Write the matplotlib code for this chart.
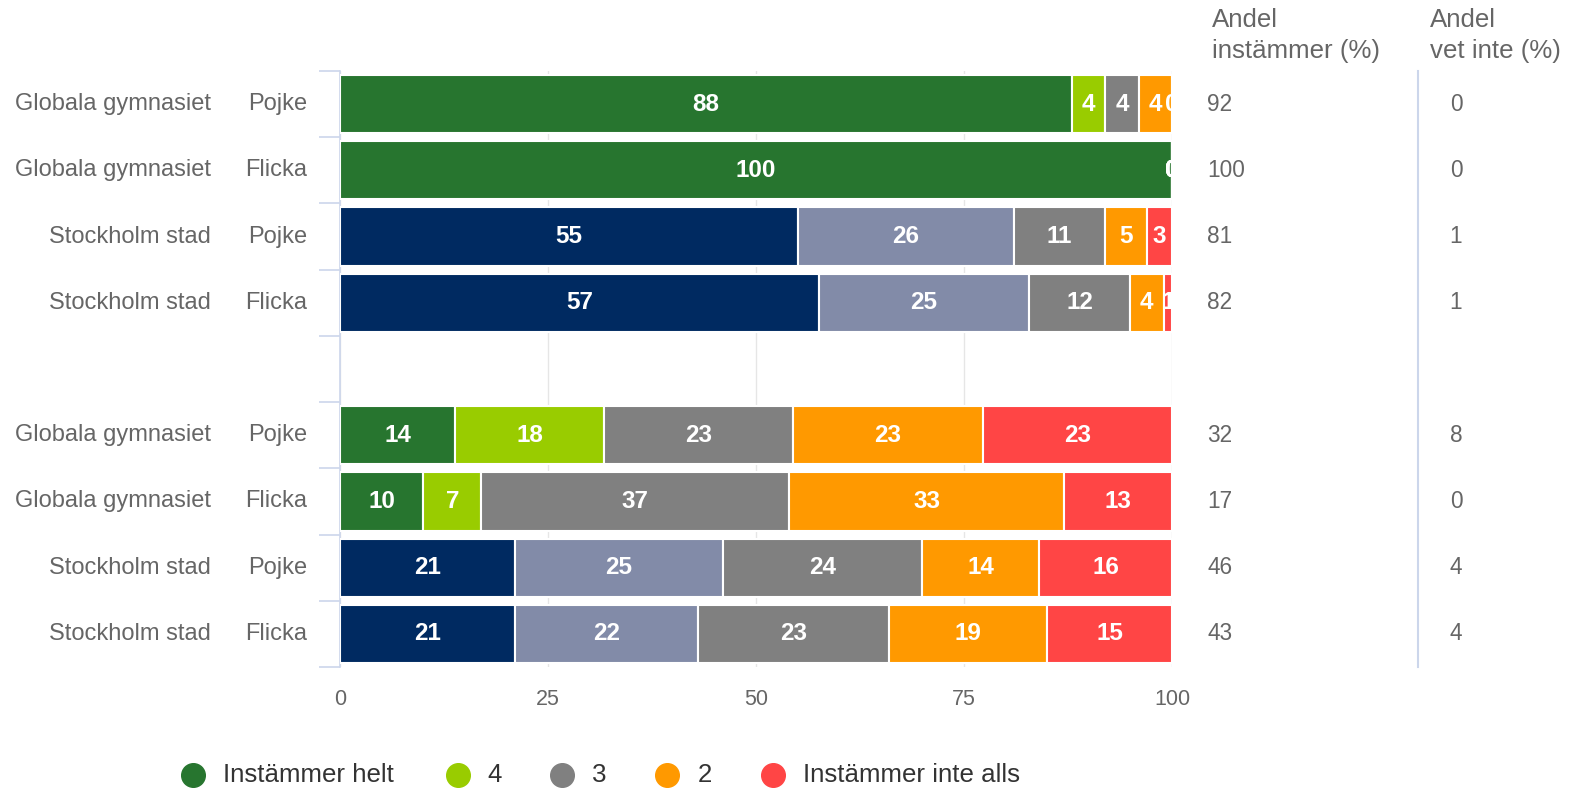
import matplotlib.pyplot as plt
import matplotlib.transforms as mtransforms
from matplotlib.lines import Line2D
import numpy as np

plt.rcParams['font.family'] = ['Liberation Sans', 'DejaVu Sans']

# Data
schools = ["Globala gymnasiet", "Globala gymnasiet", "Stockholm stad", "Stockholm stad",
           "", "Globala gymnasiet", "Globala gymnasiet", "Stockholm stad", "Stockholm stad"]
genders = ["Pojke", "Flicka", "Pojke", "Flicka", "", "Pojke", "Flicka", "Pojke", "Flicka"]
answers = ["Instämmer helt", "4", "3", "2", "Instämmer inte alls"]
values = [
    [88, 4, 4, 4, 0],
    [100, 0, 0, 0, 0],
    [55, 26, 11, 5, 3],
    [57, 25, 12, 4, 1],
    None,
    [14, 18, 23, 23, 23],
    [10, 7, 37, 33, 13],
    [21, 25, 24, 14, 16],
    [21, 22, 23, 19, 15],
]
share_agree = ["92", "100", "81", "82", "", "32", "17", "46", "43"]
share_dontknow = ["0", "0", "1", "1", "", "8", "0", "4", "4"]

globala_colors = ["#27752f", "#99cc00", "#808080", "#ff9900", "#ff4545"]
sthlm_colors = ["#002a61", "#828ba8", "#808080", "#ff9900", "#ff4545"]

txt = "#666666"
W, H = 1581, 789
X0, X1, Y0, Y1 = 340, 1172, 71, 667  # plot area in pixels

fig = plt.figure(figsize=(W / 100, H / 100), dpi=100)
ax = fig.add_axes([X0 / W, 1 - Y1 / H, (X1 - X0) / W, (Y1 - Y0) / H])

for i, row in enumerate(values):
    if row is None:
        continue
    cols = sthlm_colors if schools[i].startswith("Stockholm") else globala_colors
    total = sum(row)
    left = 0.0
    for v, c in zip(row, cols):
        w = v / total * 100
        ax.barh(i, w, left=left, height=0.88, color=c, edgecolor="white", linewidth=1.5, zorder=3)
        ax.text(left + w / 2, i, str(v), ha="center", va="center", color="white",
                fontsize=17.5, fontweight="bold", zorder=4, clip_on=True)
        left += w

ax.set_xlim(0, 100)
ax.set_ylim(8.5, -0.5)
ax.set_xticks([0, 25, 50, 75, 100])
ax.tick_params(axis="x", length=0, labelsize=15.5, labelcolor=txt, pad=16)
ax.set_yticks([])
ax.set_yticks(np.arange(-0.5, 9, 1), minor=True)
ax.tick_params(axis="y", which="minor", length=15, color="#ccd6eb", width=1.2)
ax.grid(axis="x", color="#e6e6e6", linewidth=1, zorder=0)
for s in ["top", "right", "bottom"]:
    ax.spines[s].set_visible(False)
ax.spines["left"].set_color("#ccd6eb")
ax.spines["left"].set_linewidth(1.2)

# category labels and side columns
tr = mtransforms.blended_transform_factory(fig.transFigure, ax.transData)
for i in range(len(schools)):
    ax.text(211 / W, i, schools[i], transform=tr, ha="right", va="center", fontsize=17, color=txt)
    ax.text(307 / W, i, genders[i], transform=tr, ha="right", va="center", fontsize=17, color=txt)
    ax.text(1207 / W, i, share_agree[i], transform=tr, ha="left", va="center", fontsize=16.3, color=txt)
    ax.text(1456 / W, i, share_dontknow[i], transform=tr, ha="center", va="center", fontsize=16.3, color=txt)

for x, lines in [(1212, ["Andel", "instämmer (%)"]), (1430, ["Andel", "vet inte (%)"])]:
    for y, s in zip([20, 51], lines):
        fig.text(x / W, 1 - y / H, s, ha="left", va="center", fontsize=18.6, color=txt)

fig.add_artist(Line2D([1418 / W, 1418 / W], [1 - Y0 / H, 1 - Y1 / H], color="#ccd6eb",
                      linewidth=1.5, transform=fig.transFigure))

# legend
marker_x = [193, 458, 562, 667, 773]
label_x = [223, 487, 592, 698, 803]
ly = 1 - 775 / H
for mx, lx, c, lab in zip(marker_x, label_x, globala_colors, answers):
    fig.add_artist(Line2D([mx / W], [ly], marker="o", markersize=17, color=c,
                          linestyle="none", transform=fig.transFigure))
    fig.text(lx / W, ly, lab, ha="left", va="center", fontsize=18.6, color="#333333")

fig.savefig("out.png", dpi=100)
